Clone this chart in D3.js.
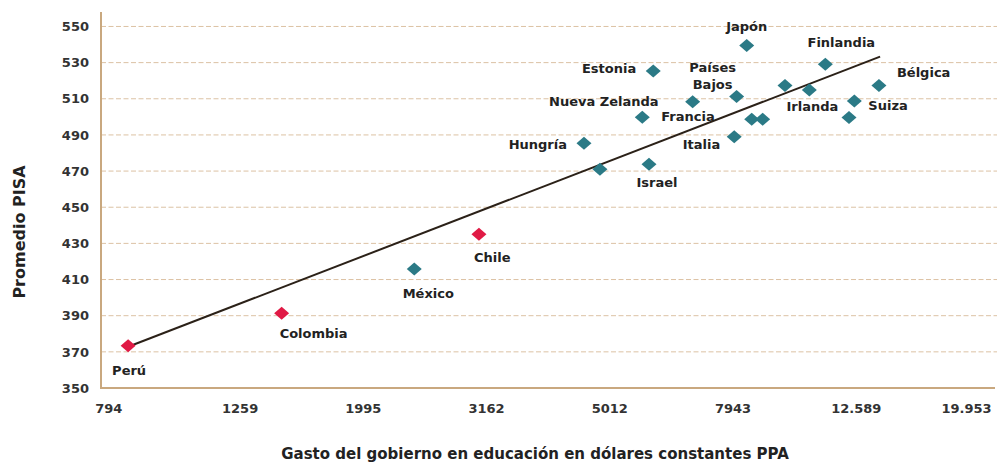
<!DOCTYPE html>
<html>
<head>
<meta charset="utf-8">
<script src="https://cdn.jsdelivr.net/npm/d3@7"></script>
<style>
    body { margin: 0; background: #fff; }
    text { font-family: "DejaVu Sans", sans-serif; font-weight: bold; }
</style>
</head>
<body>
<div id="chart"></div>
<script>
// data
const countries = ["Perú", "Colombia", "México", "Chile", "Hungría", "", "Francia", "Estonia",
    "Israel", "Nueva Zelanda", "Países Bajos", "Japón", "Italia", "", "", "", "Irlanda",
    "Finlandia", "Bélgica", "Suiza", ""];
const gasto = [830, 1473, 2418, 3079, 4559, 4839, 5669, 5906, 5813, 6843, 8065, 8375, 7993,
    8533, 8889, 9663, 10583, 11235, 13727, 12521, 12274];
const pisa = [373.4, 391.3, 415.8, 435.0, 485.4, 471.0, 499.8, 525.4, 473.8, 508.4, 511.2,
    539.4, 489.0, 498.7, 498.7, 517.3, 514.9, 529.1, 517.3, 508.8, 499.6];
const latam = ["Perú", "Colombia", "Chile"];

const xTicks = [794, 1259, 1995, 3162, 5012, 7943, 12589, 19953];
const xTickLabels = ["794", "1259", "1995", "3162", "5012", "7943", "12.589", "19.953"];
const yTicks = [350, 370, 390, 410, 430, 450, 470, 490, 510, 530, 550];

// trend line end points
const trendX = [830, 13785];
const trendY = [372.8, 533.3];

const xTitle = "Gasto del gobierno en educación en dólares constantes PPA";
const yTitle = "Promedio PISA";

class ScatterChart {
    constructor() {
        this.width = 999;
        this.height = 463;
        this.svg = d3.select("#chart").append("svg")
            .attr("width", this.width)
            .attr("height", this.height);
        this.x = d3.scaleLog().domain([750, 21180]).range([101, 995]);
        this.y = d3.scaleLinear().domain([350, 558]).range([388, 12]);
    }

    drawAxes() {
        let x = this.x, y = this.y;

        // dashed gridlines
        this.svg.append("g")
            .selectAll("line")
            .data(yTicks.filter(d => d > 350))
            .enter().append("line")
            .attr("x1", 101).attr("x2", 997)
            .attr("y1", d => y(d)).attr("y2", d => y(d))
            .style("stroke", "#dcc2a4")
            .style("stroke-width", 1)
            .style("stroke-dasharray", "5,2.5");

        let yAxis = this.svg.append("g")
            .attr("transform", "translate(101,0)")
            .call(d3.axisLeft(y).tickValues(yTicks).tickSize(0).tickPadding(12));
        yAxis.select(".domain").remove();
        yAxis.selectAll("text").style("font-size", "13px").style("fill", "#333");

        let xAxis = this.svg.append("g")
            .attr("transform", "translate(0,388)")
            .call(d3.axisBottom(x).tickValues(xTicks)
                .tickFormat((d, i) => xTickLabels[i]).tickSize(0).tickPadding(16));
        xAxis.select(".domain").remove();
        xAxis.selectAll("text").style("font-size", "13px").style("fill", "#333");
        // nudge the end labels like the original
        xAxis.selectAll("text").attr("dx", (d, i) => i == 0 ? -8 : (i == xTicks.length - 1 ? -13 : 0));

        // axis lines
        this.svg.append("line")
            .attr("x1", 101).attr("x2", 101).attr("y1", 12).attr("y2", 389)
            .style("stroke", "#c9a87f").style("stroke-width", 2);
        this.svg.append("line")
            .attr("x1", 100).attr("x2", 995).attr("y1", 388).attr("y2", 388)
            .style("stroke", "#c9a87f").style("stroke-width", 2);

        this.svg.append("text")
            .attr("x", 535).attr("y", 459)
            .attr("text-anchor", "middle")
            .style("font-size", "15px").style("fill", "#222")
            .text(xTitle);

        this.svg.append("text")
            .attr("transform", "translate(25,232) rotate(-90)")
            .attr("text-anchor", "middle")
            .style("font-size", "16px").style("fill", "#222")
            .text(yTitle);
    }

    drawPoints() {
        let x = this.x, y = this.y;
        let points = countries.map((c, i) => ({name: c, gasto: gasto[i], pisa: pisa[i]}));

        this.svg.append("path")
            .attr("d", d3.line()(trendX.map((d, i) => [x(d), y(trendY[i])])))
            .style("stroke", "#2b2118")
            .style("stroke-width", 2)
            .style("fill", "none");

        this.svg.append("g")
            .selectAll("path")
            .data(points)
            .enter().append("path")
            .attr("transform", d => "translate(" + x(d.gasto) + "," + y(d.pisa) + ")")
            .attr("d", "M0,-6.5L7.5,0L0,6.5L-7.5,0Z")
            .style("fill", d => latam.includes(d.name) ? "#e01a45" : "#2b7a86");

        // label offsets from each marker: dx, dy, anchor
        let labelPos = {
            "Perú": [1, 25, "middle"],
            "Colombia": [-2, 20, "start"],
            "México": [14, 24, "middle"],
            "Chile": [-5, 23, "start"],
            "Hungría": [-17, 1, "end"],
            "Francia": [19, -1, "start"],
            "Estonia": [-17, -2, "end"],
            "Israel": [8, 18, "middle"],
            "Nueva Zelanda": [-34, 0, "end"],
            "Países Bajos": [-24, -29, "middle"],
            "Japón": [0, -19, "middle"],
            "Italia": [-14, 8, "end"],
            "Irlanda": [3, 17, "middle"],
            "Finlandia": [16, -22, "middle"],
            "Bélgica": [18, -13, "start"],
            "Suiza": [14, 5, "start"]
        };

        let labels = this.svg.append("g")
            .selectAll("text")
            .data(points.filter(d => labelPos[d.name]))
            .enter().append("text")
            .attr("x", d => x(d.gasto) + labelPos[d.name][0])
            .attr("y", d => y(d.pisa) + labelPos[d.name][1])
            .attr("text-anchor", d => labelPos[d.name][2])
            .style("font-size", "13px")
            .style("fill", "#222");

        labels.each(function(d) {
            let t = d3.select(this);
            let words = d.name == "Países Bajos" ? ["Países", "Bajos"] : [d.name];
            words.forEach((w, i) => {
                t.append("tspan")
                    .attr("x", t.attr("x"))
                    .attr("dy", i == 0 ? "0.35em" : "17px")
                    .text(w);
            });
        });
    }
}

let chart = new ScatterChart();
chart.drawAxes();
chart.drawPoints();
</script>
</body>
</html>
